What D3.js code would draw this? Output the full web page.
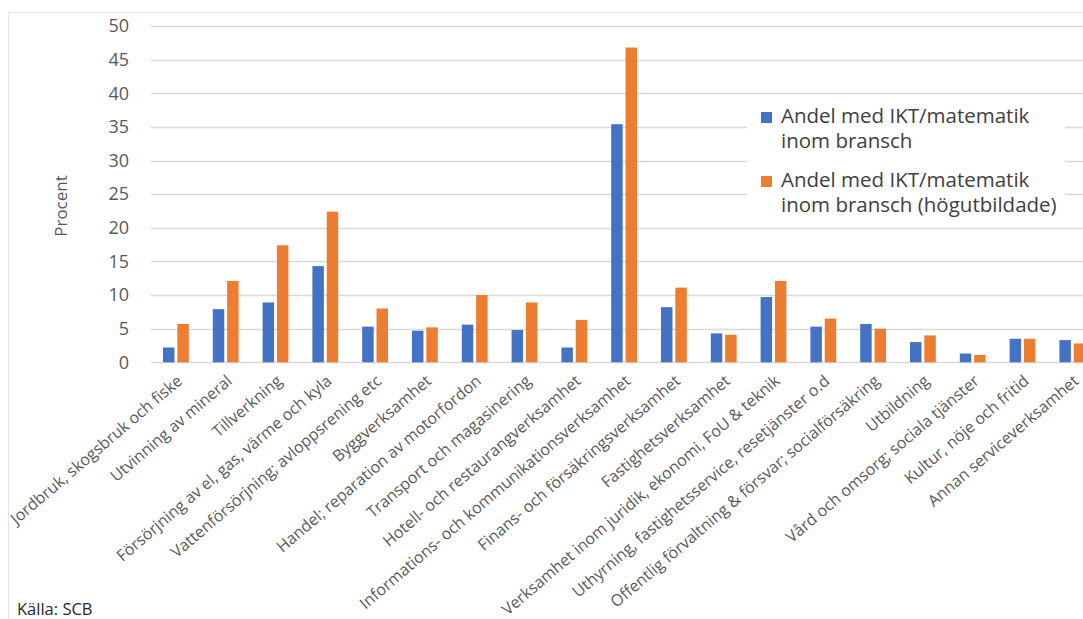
<!DOCTYPE html>
<html><head><meta charset="utf-8">
<script src="https://cdn.jsdelivr.net/npm/d3@7"></script>
<style>body{margin:0;background:#fff;overflow:hidden}svg{display:block}</style>
</head><body><svg id="c" width="1083" height="619"></svg>
<script>
const categories = ["Jordbruk, skogsbruk och fiske","Utvinning av mineral","Tillverkning","Försörjning av el, gas, värme och kyla","Vattenförsörjning; avloppsrening etc","Byggverksamhet","Handel; reparation av motorfordon","Transport och magasinering","Hotell- och restaurangverksamhet","Informations- och kommunikationsverksamhet","Finans- och försäkringsverksamhet","Fastighetsverksamhet","Verksamhet inom juridik, ekonomi, FoU & teknik","Uthyrning, fastighetsservice, resetjänster o.d","Offentlig förvaltning & försvar; socialförsäkring","Utbildning","Vård och omsorg; sociala tjänster","Kultur, nöje och fritid","Annan serviceverksamhet"];
const seriesNames = ["Andel med IKT/matematik inom bransch","Andel med IKT/matematik inom bransch (högutbildade)"];
const valuesAll = [2.2,7.9,8.9,14.3,5.3,4.7,5.6,4.8,2.2,35.4,8.2,4.3,9.7,5.3,5.7,3.0,1.3,3.5,3.3];
const valuesHigh = [5.7,12.1,17.4,22.4,8.0,5.2,10.0,8.9,6.3,46.8,11.1,4.1,12.1,6.5,5.0,4.0,1.1,3.5,2.8];
const yTicks = [0,5,10,15,20,25,30,35,40,45,50];
const colors = ["#4472C4","#ED7D31"];

const svg = d3.select("#c");
const font = "'Open Sans', sans-serif";
svg.append("rect").attr("x",8.5).attr("y",12.5).attr("width",1200).attr("height",700)
  .attr("fill","#fff").attr("stroke","#e3e3e3");

const x0 = d3.scaleBand().domain(categories).range([151, 151 + 19*49.8]).paddingInner(0).paddingOuter(0);
const x1 = d3.scaleBand().domain([0,1]).range([12, x0.bandwidth()-12]).paddingInner(0.2);
const y = d3.scaleLinear().domain([0,50]).range([362.3, 26]);

// gridlines
svg.append("g").selectAll("line").data(yTicks).join("line")
  .attr("x1",151).attr("x2",1083).attr("y1",d=>Math.round(y(d))+0.5).attr("y2",d=>Math.round(y(d))+0.5)
  .attr("stroke","#d9d9d9").attr("stroke-width",1.3);

// y tick labels
svg.append("g").selectAll("text").data(yTicks).join("text")
  .attr("x",129).attr("y",d=>y(d)).attr("dy","0.35em").attr("text-anchor","end")
  .attr("font-family",font).attr("font-size",18).attr("fill","#595959").text(d=>d);

svg.append("text").attr("transform","translate(67,206) rotate(-90)").attr("text-anchor","middle")
  .attr("font-family",font).attr("font-size",17).attr("fill","#595959").text("Procent");

// bars
const series = [valuesAll, valuesHigh];
series.forEach((vals,si)=>{
  svg.append("g").selectAll("rect").data(vals).join("rect")
    .attr("x",(d,i)=>x0(categories[i]) + x1(si))
    .attr("y",d=>y(d)).attr("width",x1.bandwidth()).attr("height",d=>y(0)-y(d))
    .attr("fill",colors[si]);
});

// category labels
svg.append("g").selectAll("text").data(categories).join("text")
  .attr("transform",d=>`translate(${x0(d)+x0.bandwidth()/2+1},${375}) rotate(-40.5)`)
  .attr("text-anchor","end").attr("dy",10)
  .attr("font-family",font).attr("font-size",16).attr("fill","#595959").text(d=>d);

// legend
const lg = svg.append("g");
lg.append("rect").attr("x",747).attr("y",100).attr("width",318).attr("height",120).attr("fill","#fff");
const legendLines = [["Andel med IKT/matematik","inom bransch"],["Andel med IKT/matematik","inom bransch (högutbildade)"]];
legendLines.forEach((lines,i)=>{
  const by = 123 + i*64;
  lg.append("rect").attr("x",761).attr("y",by-11).attr("width",11).attr("height",11).attr("fill",colors[i]);
  const t = lg.append("text").attr("x",781).attr("y",by).attr("font-family",font).attr("font-size",20.5)
      .attr("fill","#404040");
  lines.forEach((s,j)=>{
    t.append("tspan").attr("x",781).attr("dy",j===0?0:25).text(s);
  });
});

svg.append("text").attr("x",17).attr("y",615).attr("font-family",font).attr("font-size",16.5)
  .attr("fill","#262626").text("Källa: SCB");
</script></body></html>
